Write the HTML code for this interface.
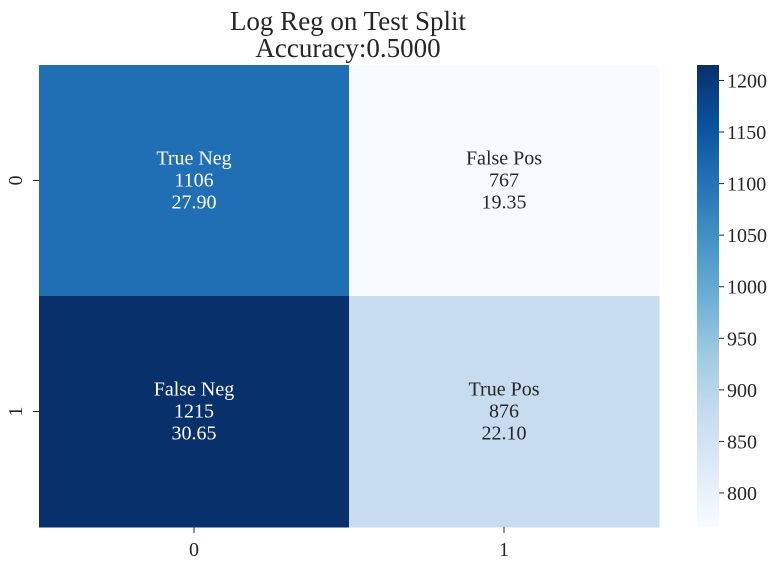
<!DOCTYPE html>
<html><head><meta charset="utf-8"><style>
body{margin:0;background:#fff;}
text{font-family:"Liberation Serif",serif;}
</style></head><body>
<svg id="chart" width="784" height="567" xmlns="http://www.w3.org/2000/svg">
<text x="348" y="30" font-size="27" text-anchor="middle" fill="#262626">Log Reg on Test Split</text>
<text x="348" y="57" font-size="27" text-anchor="middle" fill="#262626">Accuracy:0.5000</text>
<g id="cells"></g>
<g id="cbar"></g>
</svg>
<script>
const rowLabels=["0","1"];
const colLabels=["0","1"];
const counts=[[1106,767],[1215,876]];
const percents=["27.90","19.35","30.65","22.10"];
const names=["True Neg","False Pos","False Neg","True Pos"];
const cbarTicks=[800,850,900,950,1000,1050,1100,1150,1200];
const NS="http://www.w3.org/2000/svg";
const stops=["#f7fbff","#deebf7","#c6dbef","#9ecae1","#6baed6","#4292c6","#2171b5","#08519c","#08306b"];
const flat=counts.flat();
const vmin=Math.min(...flat),vmax=Math.max(...flat);
function hex(h){return [1,3,5].map(i=>parseInt(h.substr(i,2),16));}
function cmap(t){t=Math.max(0,Math.min(1,t));const p=t*(stops.length-1);const i=Math.min(Math.floor(p),stops.length-2);const f=p-i;const a=hex(stops[i]),b=hex(stops[i+1]);return "rgb("+a.map((v,k)=>Math.round(v+(b[k]-v)*f)).join(",")+")";}
const X0=39,X1=659,Y0=65,Y1=527;
const cw=(X1-X0)/colLabels.length,ch=(Y1-Y0)/rowLabels.length;
function mk(tag,attrs,parent){const e=document.createElementNS(NS,tag);for(const k in attrs)e.setAttribute(k,attrs[k]);parent.appendChild(e);return e;}
const cells=document.getElementById('cells');
counts.forEach((row,r)=>row.forEach((v,c)=>{
 const t=(v-vmin)/(vmax-vmin);
 const rect=mk('rect',{x:X0+c*cw,y:Y0+r*ch,width:cw+0.5,height:ch+0.5,fill:cmap(t)},cells);
 
 
 const col=t>0.5?"#ffffff":"#262626";
 const idx=r*2+c;
 const lines=[names[idx],String(v),percents[idx]];
 lines.forEach((s,j)=>{const tx=mk('text',{x:X0+c*cw+cw/2,y:Y0+r*ch+ch/2-16+j*22,"font-size":20,"text-anchor":"middle",fill:col},cells);tx.textContent=s;
 
 });
}));
colLabels.forEach((l,c)=>{const x=X0+c*cw+cw/2;mk('line',{x1:x,x2:x,y1:Y1,y2:Y1+6,stroke:"#262626"},cells);
 const tx=mk('text',{x:x,y:Y1+29,"font-size":20,"text-anchor":"middle",fill:"#262626"},cells);tx.textContent=l;
 
 });
rowLabels.forEach((l,r)=>{const y=Y0+r*ch+ch/2;mk('line',{x1:X0-6,x2:X0,y1:y,y2:y,stroke:"#262626"},cells);
 const tx=mk('text',{x:0,y:0,"font-size":20,"text-anchor":"middle",fill:"#262626",transform:"translate(22,"+y+") rotate(-90)"},cells);tx.textContent=l;
 
 });
const cb=document.getElementById('cbar');
const CX=697,CW=22;
const defs=mk('defs',{},cb);const g=mk('linearGradient',{id:"grad",x1:0,y1:1,x2:0,y2:0},defs);
stops.forEach((s,i)=>mk('stop',{offset:i/(stops.length-1),"stop-color":s},g));
const cr=mk('rect',{x:CX,y:Y0,width:CW,height:Y1-Y0,fill:"url(#grad)"},cb);


function cy(v){return Y1-(v-vmin)/(vmax-vmin)*(Y1-Y0);}
cbarTicks.forEach(v=>{const y=cy(v);mk('line',{x1:CX+CW,x2:CX+CW+5,y1:y,y2:y,stroke:"#262626"},cb);
 const tx=mk('text',{x:CX+CW+8,y:y+7,"font-size":20,fill:"#262626"},cb);tx.textContent=v;
 
 });
</script>
</body></html>
